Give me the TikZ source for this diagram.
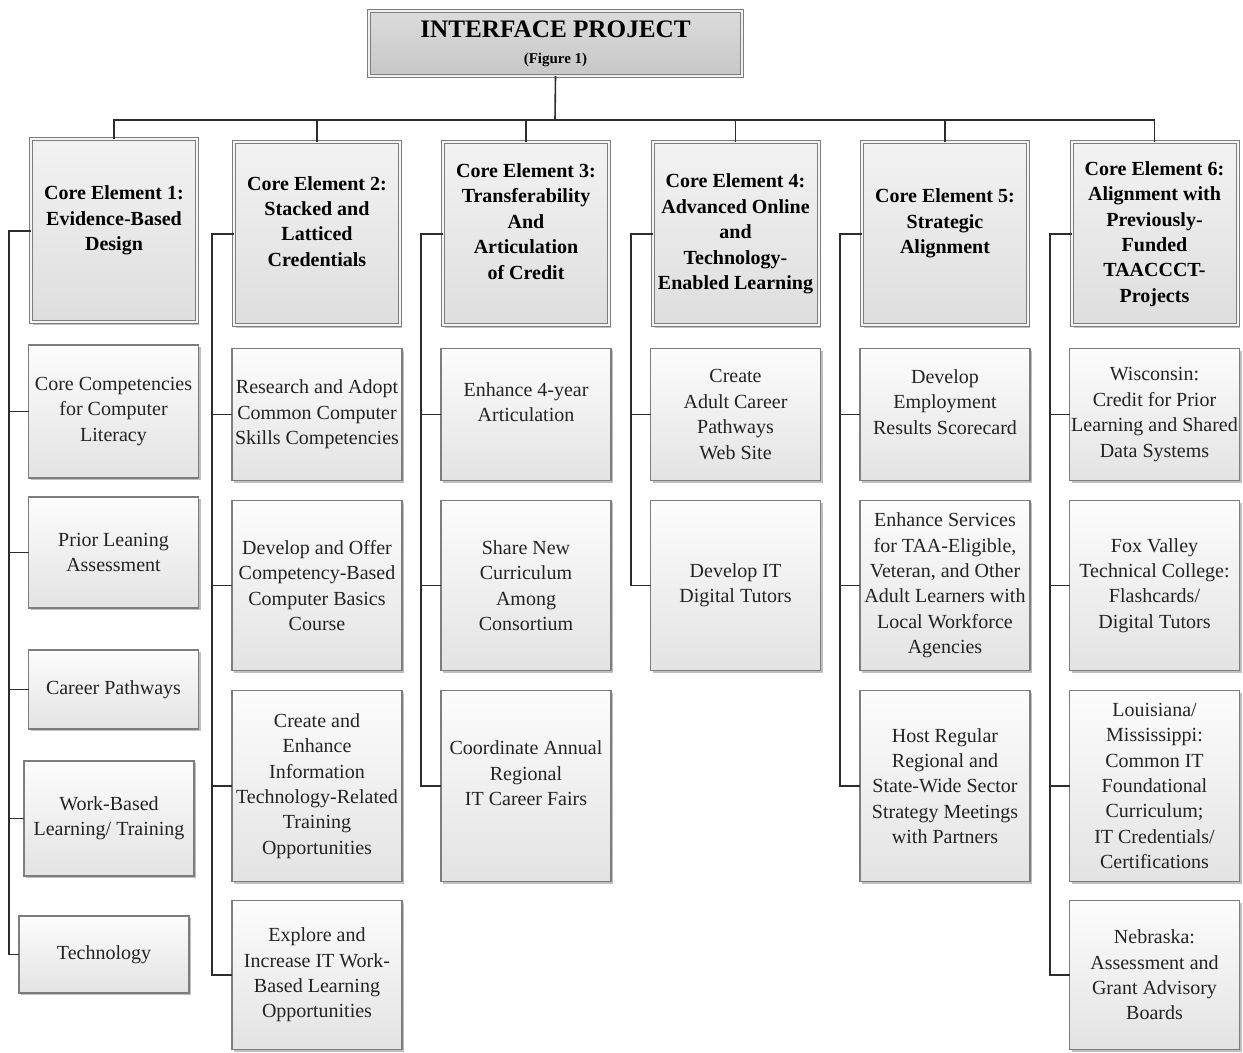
\documentclass[tikz,border=0pt]{standalone}
\usepackage{fontspec}
\setmainfont{Liberation Serif}
\usetikzlibrary{positioning, shadows, calc}
\definecolor{boxline}{RGB}{125,125,125}
\definecolor{linkline}{RGB}{45,45,45}
\definecolor{txtgray}{RGB}{35,35,35}
\newcommand{\gapline}{\\\mbox{}}
\tikzset{
  %% ---- boxes ----
  root/.style = {rectangle, draw=boxline, line width=0.5pt,
                 double=black!6, double distance=1pt,
                 top color=black!14, bottom color=black!22,
                 minimum width=186.5pt, minimum height=32.5pt,
                 align=center, inner sep=0pt, outer sep=0pt, text=black,
                 drop shadow={shadow xshift=1.2pt, shadow yshift=-1.2pt,
                              fill=black, opacity=0.25}},
  head/.style = {rectangle, draw=boxline, line width=0.5pt,
                 double=black!4, double distance=1pt,
                 top color=black!5, bottom color=black!13,
                 minimum width=83pt, minimum height=91.5pt,
                 align=center, inner sep=0pt, outer sep=0pt, text=black,
                 font=\bfseries\fontsize{10}{12.7}\selectfont,
                 drop shadow={shadow xshift=1.2pt, shadow yshift=-1.2pt,
                              fill=black, opacity=0.25}},
  leaf/.style = {rectangle, draw=boxline, line width=0.6pt,
                 top color=black!1, bottom color=black!11,
                 minimum width=85pt, minimum height=#1,
                 align=center, inner sep=0pt, outer sep=0pt, text=txtgray,
                 font=\fontsize{10}{12.7}\selectfont,
                 drop shadow={shadow xshift=1.2pt, shadow yshift=-1.2pt,
                              fill=black, opacity=0.25}},
  leaf/.default = 66pt,
  %% ---- connectors ----
  link/.style = {draw=linkline, line width=0.8pt},
}
\begin{document}
\begin{tikzpicture}[x=0.5pt, y=-0.5pt, node distance=10pt]
\useasboundingbox (0,0) rectangle (1243,1053);

%% top of the tree
\node[root] (root) at (555.5,43.5) {%
  {\bfseries\fontsize{12.6}{15}\selectfont INTERFACE PROJECT}\\[1pt]
  {\bfseries\fontsize{7.5}{9}\selectfont (Figure 1)}};

%% core elements
\node[head] (h1) at (114,231)    {Core Element 1:\\Evidence-Based\\Design\gapline};
\node[head] (h2) at (317,234)    {Core Element 2:\\Stacked and\\Latticed\\Credentials\gapline};
\node[head] (h3) at (526,234)    {Core Element 3:\\Transferability\\And\\Articulation\\of Credit\gapline};
\node[head] (h4) at (735.5,234)  {Core Element 4:\\Advanced Online\\and\\Technology-\\Enabled Learning};
\node[head] (h5) at (945,234)    {Core Element 5:\\Strategic\\Alignment\gapline};
\node[head] (h6) at (1154.5,234) {Core Element 6:\\Alignment with\\Previously-\\Funded\\TAACCCT-\\Projects};

%% column 1
\node[leaf=66.5pt] (c11) at (113.5,411.5) {Core Competencies\\for Computer\\Literacy};
\node[leaf=55.5pt] (c12) at (113.5,552.5) {Prior Leaning\\Assessment};
\node[leaf=39.5pt] (c13) at (113.5,689.5) {Career Pathways};
\node[leaf=57.5pt] (c14) at (109,818.5)   {Work-Based\\Learning/ Training};
\node[leaf=38.5pt] (c15) at (104,954.5)   {Technology};

%% column 2
\node[leaf=66pt, below=11.5pt of h2]   (c21) {Research and Adopt\\Common Computer\\Skills Competencies};
\node[leaf=85pt, below=of c21]         (c22) {Develop and Offer\\Competency-Based\\Computer Basics\\Course};
\node[leaf=95.5pt, below=of c22]       (c23) {Create and\\Enhance\\Information\\Technology-Related\\Training\\Opportunities};
\node[leaf=74.5pt, below=9.5pt of c23] (c24) {Explore and\\Increase IT Work-\\Based Learning\\Opportunities};

%% column 3
\node[leaf=66pt, below=11.5pt of h3] (c31) {Enhance 4-year\\Articulation\gapline};
\node[leaf=85pt, below=of c31]       (c32) {Share New\\Curriculum\\Among\\Consortium};
\node[leaf=95.5pt, below=of c32]     (c33) {Coordinate Annual\\Regional\\IT Career Fairs\gapline};

%% column 4
\node[leaf=66pt, below=11.5pt of h4] (c41) {Create\\Adult Career\\Pathways\\Web Site};
\node[leaf=85pt, below=of c41]       (c42) {Develop IT\\Digital Tutors};

%% column 5
\node[leaf=66pt, below=11.5pt of h5] (c51) {Develop\\Employment\\Results Scorecard\gapline};
\node[leaf=85pt, below=of c51]       (c52) {Enhance Services\\for TAA-Eligible,\\Veteran, and Other\\Adult Learners with\\Local Workforce\\Agencies};
\node[leaf=95.5pt, below=of c52]     (c53) {Host Regular\\Regional and\\State-Wide Sector\\Strategy Meetings\\with Partners};

%% column 6
\node[leaf=66pt, below=11.5pt of h6]   (c61) {Wisconsin:\\Credit for Prior\\Learning and Shared\\Data Systems};
\node[leaf=85pt, below=of c61]         (c62) {Fox Valley\\Technical College:\\Flashcards/\\Digital Tutors};
\node[leaf=95.5pt, below=of c62]       (c63) {Louisiana/\\Mississippi:\\Common IT\\Foundational\\Curriculum;\\IT Credentials/\\Certifications};
\node[leaf=74.5pt, below=9.5pt of c63] (c64) {Nebraska:\\Assessment and\\Grant Advisory\\Boards};

%% connectors
\coordinate (bar) at (555,120);
\draw[link] (root.south) -- (bar);
\draw[link] (h1.north) |- (bar) -| (h6.north);
\foreach \h in {h2,h3,h4,h5}
  \draw[link] (\h.north) -- (\h.north |- bar);

\coordinate (s1) at (9,231);
\coordinate (s2) at (212,234);
\coordinate (s3) at (421,234);
\coordinate (s4) at (631,234);
\coordinate (s5) at (840,234);
\coordinate (s6) at (1050,234);

\draw[link] (h1.west) -- (s1) |- (c15.west);
\draw[link] (h2.west) -- (s2) |- (c24.west);
\draw[link] (h3.west) -- (s3) |- (c33.west);
\draw[link] (h4.west) -- (s4) |- (c42.west);
\draw[link] (h5.west) -- (s5) |- (c53.west);
\draw[link] (h6.west) -- (s6) |- (c64.west);
\foreach \c in {c11,c12,c13,c14}
  \draw[link] (\c.west) -- (\c.west -| s1);
\foreach \c in {c21,c22,c23}
  \draw[link] (\c.west) -- (\c.west -| s2);
\foreach \c in {c31,c32}
  \draw[link] (\c.west) -- (\c.west -| s3);
\draw[link] (c41.west) -- (c41.west -| s4);
\foreach \c in {c51,c52}
  \draw[link] (\c.west) -- (\c.west -| s5);
\foreach \c in {c61,c62,c63}
  \draw[link] (\c.west) -- (\c.west -| s6);
\end{tikzpicture}
\end{document}
